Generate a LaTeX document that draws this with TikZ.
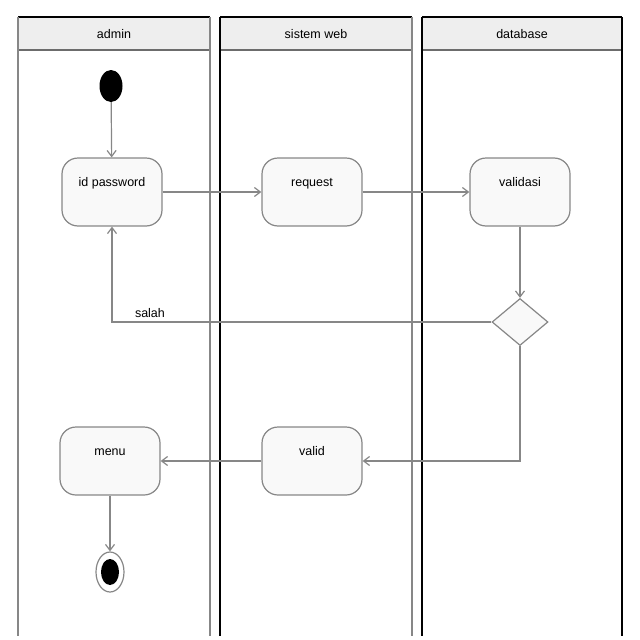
\documentclass[tikz,border=0pt]{standalone}
\usepackage{fontspec}
\setmainfont{Liberation Sans}
\usetikzlibrary{%
        arrows.meta,
        shapes.geometric
    }
\definecolor{linegray}{RGB}{135, 135, 135}
\definecolor{headgray}{RGB}{238, 238, 238}
\definecolor{boxfill}{RGB}{249, 249, 249}
\tikzset{%
    action/.style={%
        draw=linegray, line width=1.2pt, fill=boxfill,
        rounded corners=16pt, minimum width=100pt,
        inner xsep=4pt, inner ysep=12pt,
        text height=16pt, text depth=28pt,
        font=\fontsize{12.5}{14}\selectfont
    },
    decision/.style={%
        diamond, draw=linegray, line width=1.2pt, fill=boxfill,
        minimum width=56pt, minimum height=47pt, inner sep=0pt
    },
    startdot/.style={ellipse, fill=black, minimum width=23pt,
        minimum height=32pt, inner sep=0pt},
    enddot/.style={%
        ellipse, draw=linegray, line width=1.2pt, fill=white,
        minimum width=28pt, minimum height=40pt, inner sep=0pt,
        path picture={\fill[black] (path picture bounding box.center)
            ellipse [x radius=9pt, y radius=13pt];}
    },
    flow/.style={draw=linegray, line width=1.2pt,
        -{Straight Barb[length=6pt, width=9pt]}}
}

\begin{document}
\begin{tikzpicture}[x=1pt, y=-1pt]
    \useasboundingbox (0, 0) rectangle (640, 640);

    % Swimlanes
    \foreach \x/\w/\title [count=\i] in {18/192/admin, 220/192/sistem web, 422/200/database}{%
        \fill[headgray] (\x, 17) rectangle ++(\w, 33);
        \draw[line width=2.5pt] (\x, 17) -- ++(\w, 0);
        \draw[linegray!80!black, line width=2.5pt] (\x, 50) -- ++(\w, 0);
        \node[font=\fontsize{12.5}{14}\selectfont] (lane\i) at (\x + \w/2, 34) {\title};
    };
    \draw[linegray, line width=1.5pt] (18, 17) -- (18, 636);
    \draw[linegray, line width=1.5pt] (210, 17) -- (210, 636);
    \draw[line width=1.5pt] (220, 17) -- (220, 636);
    \draw[linegray, line width=1.5pt] (412, 17) -- (412, 636);
    \draw[line width=1.5pt] (422, 17) -- (422, 636);
    \draw[line width=1.5pt] (622, 17) -- (622, 636);

    % Activities
    \node[startdot] (start) at (111, 86) {};
    \node[action] (idpw) at (112, 192) {id password};
    \node[action] (request) at (312, 192) {request};
    \node[action] (validasi) at (520, 192) {validasi};
    \node[decision] (cek) at (520, 322) {};
    \node[action] (valid) at (312, 461) {valid};
    \node[action] (menu) at (110, 461) {menu};
    \node[enddot] (end) at (110, 572) {};

    % Flows
    \draw[flow] (start) -- (idpw);
    \draw[flow] (idpw) -- (request);
    \draw[flow] (request) -- (validasi);
    \draw[flow] (validasi) -- (cek);
    \draw[flow] (cek.west) -| node[pos=0.45, above, font=\fontsize{12.5}{14}\selectfont] (salah) {salah}
        (idpw.south);
    \draw[flow] (cek.south) |- (valid.east);
    \draw[flow] (valid) -- (menu);
    \draw[flow] (menu) -- (end);

\end{tikzpicture}
\end{document}
